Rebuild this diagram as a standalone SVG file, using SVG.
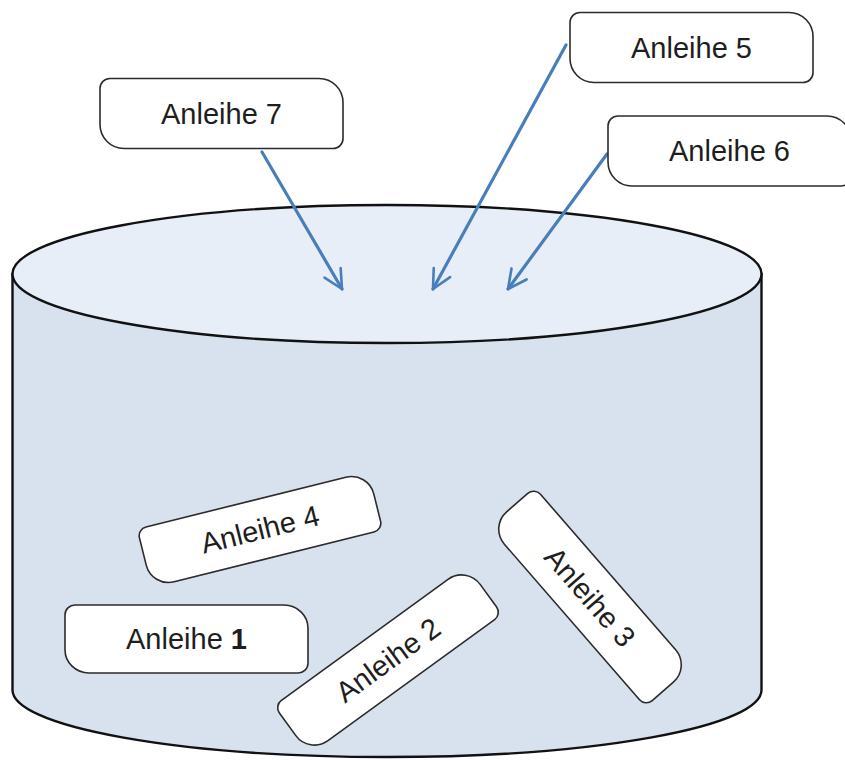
<svg xmlns="http://www.w3.org/2000/svg" width="845" height="760" viewBox="0 0 845 760">
<style>
.box{fill:#ffffff;stroke:#2b2b2b;stroke-width:1.6}
.lbl{font-family:"Liberation Sans",Arial,sans-serif;font-size:29px;fill:#1e1e1e;text-anchor:middle}
.arrow{fill:none;stroke:#4a7ebb;stroke-width:3.2;stroke-linecap:round;marker-end:url(#vhead)}
.cyl{stroke:#111;stroke-width:2.4}
</style>
<defs>
<marker id="vhead" viewBox="0 0 12 12" refX="11" refY="6" markerWidth="7" markerHeight="7" orient="auto" markerUnits="strokeWidth">
<path d="M1,1 L11,6 L1,11" fill="none" stroke="#4a7ebb" stroke-width="1.4" stroke-linecap="round" stroke-linejoin="round"/>
</marker>
<path id="box" d="M-111.5,-35 H97.5 A24,24 0 0 1 121.5,-11 V25 A10,10 0 0 1 111.5,35 H-97.5 A24,24 0 0 1 -121.5,11 V-25 A10,10 0 0 1 -111.5,-35 Z"/>
<path id="boxr" d="M-109,-30 H96 A23,23 0 0 1 119,-7 V21 A9,9 0 0 1 110,30 H-96 A23,23 0 0 1 -119,7 V-21 A9,9 0 0 1 -110,-30 Z"/>
</defs>
<rect width="845" height="760" fill="#ffffff"/>
<g id="cylinder">
<path class="cyl" fill="#d8e2ef" d="M12.5,274 V690 A374.5,67 0 0 0 761.5,690 V274 Z"/>
<ellipse class="cyl" fill="#e8eef7" cx="387" cy="274" rx="374.5" ry="69"/>
</g>
<g id="connectors">
<line class="arrow" x1="262" y1="152" x2="342" y2="289"/>
<line class="arrow" x1="566" y1="45" x2="433" y2="289"/>
<line class="arrow" x1="607" y1="154" x2="508" y2="289"/>
</g>
<g id="n7" transform="translate(221.5,113.5)">
<use href="#box" class="box"/>
<text class="lbl" x="0" y="10">Anleihe 7</text>
</g>
<g id="n5" transform="translate(691.5,47.5)">
<use href="#box" class="box"/>
<text class="lbl" x="0" y="10">Anleihe 5</text>
</g>
<g id="n6" transform="translate(729.5,151)">
<use href="#box" class="box"/>
<text class="lbl" x="0" y="10">Anleihe 6</text>
</g>
<g id="n4" transform="translate(260,529.5) rotate(-14)">
<use href="#boxr" class="box"/>
<text class="lbl" x="0" y="10">Anleihe 4</text>
</g>
<g id="n1" transform="translate(186.5,639)">
<use href="#box" class="box" transform="scale(1,0.97)"/>
<text class="lbl" x="0" y="10">Anleihe <tspan font-weight="bold">1</tspan></text>
</g>
<g id="n2" transform="translate(388,660) rotate(-36)">
<use href="#boxr" class="box"/>
<text class="lbl" x="0" y="10">Anleihe 2</text>
</g>
<g id="n3" transform="translate(590,597) rotate(49)">
<use href="#boxr" class="box"/>
<text class="lbl" x="0" y="10">Anleihe 3</text>
</g>
</svg>
